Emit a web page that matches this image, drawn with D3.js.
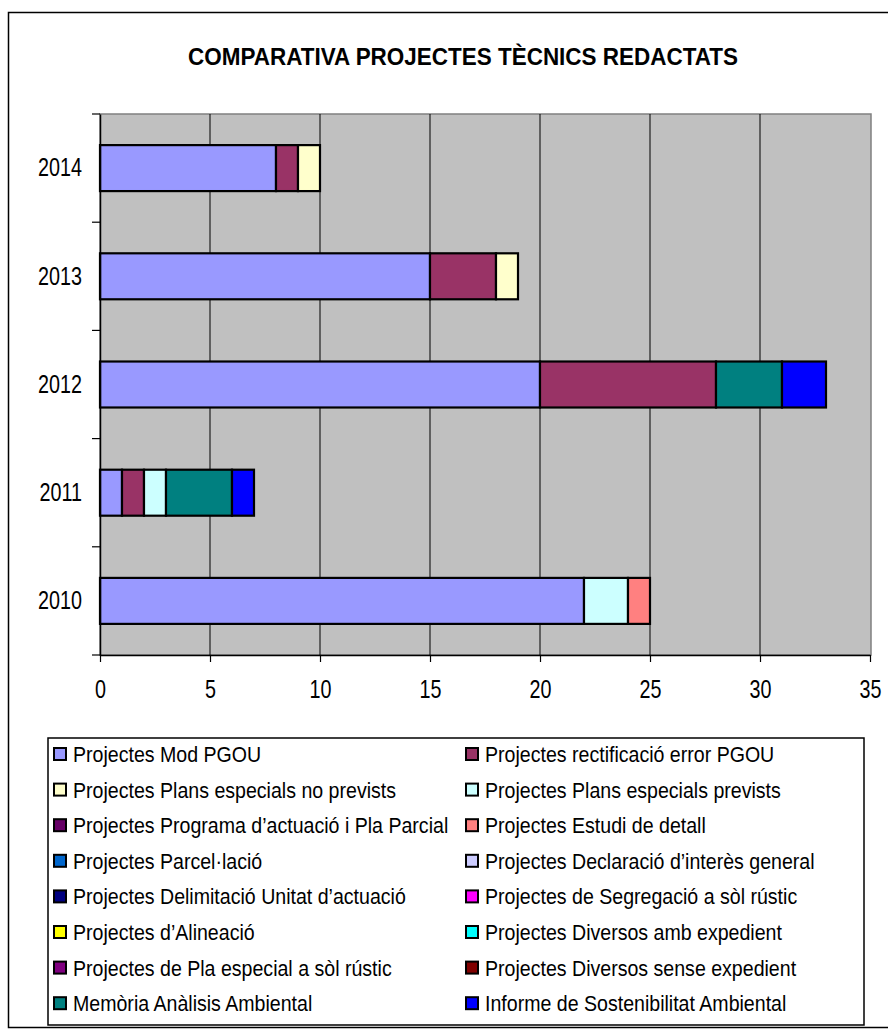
<!DOCTYPE html>
<html>
<head>
<meta charset="utf-8">
<script src="https://cdn.jsdelivr.net/npm/d3@7"></script>
<style>
  body { margin: 0; background: #fff; }
  text { font-family: "Liberation Sans", Arial, sans-serif; fill: #000; }
</style>
</head>
<body>
<div id="chart"></div>
<script>
// ---- data ----
const title = 'COMPARATIVA PROJECTES TÈCNICS REDACTATS';
const years = ['2014', '2013', '2012', '2011', '2010'];
const xTicks = [0, 5, 10, 15, 20, 25, 30, 35];

const seriesNames = [
  'Projectes Mod PGOU',
  'Projectes rectificació error PGOU',
  'Projectes Plans especials no prevists',
  'Projectes Plans especials prevists',
  'Projectes Programa d’actuació i Pla Parcial',
  'Projectes Estudi de detall',
  'Projectes Parcel·lació',
  'Projectes Declaració d’interès general',
  'Projectes Delimitació Unitat d’actuació',
  'Projectes de Segregació a sòl rústic',
  'Projectes d’Alineació',
  'Projectes Diversos amb expedient',
  'Projectes de Pla especial a sòl rústic',
  'Projectes Diversos sense expedient',
  'Memòria Anàlisis Ambiental',
  'Informe de Sostenibilitat Ambiental'
];
const seriesColors = [
  '#9999FF', '#993366', '#FFFFCC', '#CCFFFF',
  '#660066', '#FF8080', '#0066CC', '#CCCCFF',
  '#000080', '#FF00FF', '#FFFF00', '#00FFFF',
  '#800080', '#800000', '#008080', '#0000FF'
];

// one array per series, same order as years
const modPGOU          = [8, 15, 20, 1, 22];
const rectificacio     = [1, 3, 8, 1, 0];
const plansNoPrevists  = [1, 1, 0, 0, 0];
const plansPrevists    = [0, 0, 0, 1, 2];
const programa         = [0, 0, 0, 0, 0];
const estudiDetall     = [0, 0, 0, 0, 1];
const parcelacio       = [0, 0, 0, 0, 0];
const declaracio       = [0, 0, 0, 0, 0];
const delimitacio      = [0, 0, 0, 0, 0];
const segregacio       = [0, 0, 0, 0, 0];
const alineacio        = [0, 0, 0, 0, 0];
const diversosAmb      = [0, 0, 0, 0, 0];
const plaEspecialRustic= [0, 0, 0, 0, 0];
const diversosSense    = [0, 0, 0, 0, 0];
const memoria          = [0, 0, 3, 3, 0];
const informe          = [0, 0, 2, 1, 0];

const seriesValues = [modPGOU, rectificacio, plansNoPrevists, plansPrevists,
  programa, estudiDetall, parcelacio, declaracio, delimitacio, segregacio,
  alineacio, diversosAmb, plaEspecialRustic, diversosSense, memoria, informe];

// table for d3.stack
const table = years.map((y, i) => {
  const row = { year: y };
  seriesNames.forEach((s, k) => { row[s] = seriesValues[k][i]; });
  return row;
});

// ---- layout ----
const width = 888, height = 1031;
const plot = { left: 100, right: 871, top: 114, bottom: 655 };

const svg = d3.select('#chart').append('svg')
  .attr('width', width).attr('height', height);

// outer frame
svg.append('rect')
  .attr('x', 8.5).attr('y', 12.5).attr('width', 900).attr('height', 1015)
  .attr('fill', '#fff').attr('stroke', '#000').attr('stroke-width', 1.5);

// title
svg.append('text')
  .attr('x', 463).attr('y', 65)
  .attr('text-anchor', 'middle')
  .attr('font-size', 23).attr('font-weight', 'bold')
  .attr('textLength', 550).attr('lengthAdjust', 'spacingAndGlyphs')
  .text(title);

// scales
const x = d3.scaleLinear([0, 35], [plot.left, 870]);
const y = d3.scaleBand(years, [plot.top, plot.bottom])
  .paddingInner(0.575).paddingOuter(0.2875);
const color = d3.scaleOrdinal(seriesNames, seriesColors);

// plot area
svg.append('rect')
  .attr('x', plot.left).attr('y', plot.top)
  .attr('width', plot.right - plot.left).attr('height', plot.bottom - plot.top)
  .attr('fill', '#C0C0C0').attr('stroke', '#808080').attr('stroke-width', 1.5);

// vertical gridlines
svg.append('g').selectAll('line')
  .data(xTicks.filter(t => t > 0 && t < 35))
  .join('line')
  .attr('x1', d => x(d)).attr('x2', d => x(d))
  .attr('y1', plot.top).attr('y2', plot.bottom)
  .attr('stroke', '#000').attr('stroke-width', 1);

// stacked bars
const stacked = d3.stack().keys(seriesNames)(table);
svg.append('g').selectAll('g')
  .data(stacked)
  .join('g')
  .attr('fill', d => color(d.key))
  .selectAll('rect')
  .data(d => d.filter(p => p[1] > p[0]))
  .join('rect')
  .attr('x', d => x(d[0]))
  .attr('width', d => x(d[1]) - x(d[0]))
  .attr('y', d => y(d.data.year))
  .attr('height', y.bandwidth())
  .attr('stroke', '#000').attr('stroke-width', 2.2);

// x axis
const sxAxis = 0.76;
const axisX = svg.append('g')
  .attr('transform', `translate(0,${plot.bottom})`)
  .call(d3.axisBottom(x).tickValues(xTicks).tickSize(7).tickSizeOuter(0).tickPadding(18));
axisX.select('.domain').attr('stroke-width', 1.5);
axisX.selectAll('line').attr('stroke-width', 1.2);
axisX.selectAll('text')
  .attr('font-size', 26)
  .attr('font-family', '"Liberation Sans", Arial, sans-serif')
  .attr('transform', `scale(${sxAxis},1)`);

// y axis: labels at band centres, ticks between categories
const axisY = svg.append('g')
  .attr('transform', `translate(${plot.left},0)`)
  .call(d3.axisLeft(y).tickSize(0).tickSizeOuter(0));
axisY.select('.domain').attr('stroke-width', 1.5);
axisY.selectAll('text')
  .attr('font-size', 26)
  .attr('font-family', '"Liberation Sans", Arial, sans-serif')
  .attr('x', -18 / sxAxis)
  .attr('transform', `scale(${sxAxis},1)`);

const bounds = d3.range(years.length + 1).map(i => plot.top + i * y.step());
svg.append('g').selectAll('line')
  .data(bounds)
  .join('line')
  .attr('x1', plot.left - 8).attr('x2', plot.left)
  .attr('y1', d => d).attr('y2', d => d)
  .attr('stroke', '#000').attr('stroke-width', 1.2);

// legend
const legend = { left: 48, top: 738, right: 864, bottom: 1025 };
svg.append('rect')
  .attr('x', legend.left).attr('y', legend.top)
  .attr('width', legend.right - legend.left).attr('height', legend.bottom - legend.top)
  .attr('fill', '#fff').attr('stroke', '#000').attr('stroke-width', 1.5);

const colX = [54, 466];
const rowY = i => 754 + i * 35.6;
const items = svg.append('g').selectAll('g')
  .data(seriesNames)
  .join('g')
  .attr('transform', (d, i) => `translate(${colX[i % 2]},${rowY(Math.floor(i / 2))})`);
items.append('rect')
  .attr('x', 0).attr('y', -6).attr('width', 12).attr('height', 12)
  .attr('fill', d => color(d)).attr('stroke', '#000').attr('stroke-width', 2);
items.append('text')
  .attr('transform', 'translate(19,0) scale(0.89,1)')
  .attr('dy', '0.36em')
  .attr('font-size', 22)
  .text(d => d);
</script>
</body>
</html>
